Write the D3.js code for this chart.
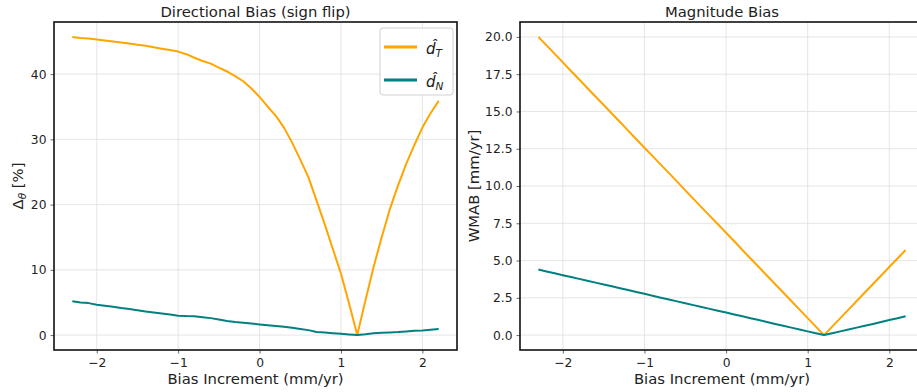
<!DOCTYPE html>
<html>
<head>
<meta charset="utf-8">
<script src="https://cdn.jsdelivr.net/npm/d3@7"></script>
<style>
  html, body { margin: 0; padding: 0; background: #fff; overflow: hidden; }
  svg { display: block; font-family: "DejaVu Sans", sans-serif; }
</style>
</head>
<body>
<svg id="chart" width="917" height="392"></svg>
<script>
// ---------------- DATA ----------------
const biasIncrement = [-2.3,-2.2,-2.1,-2.0,-1.9,-1.8,-1.7,-1.6,-1.5,-1.4,-1.3,-1.2,-1.1,-1.0,-0.9,-0.8,-0.7,-0.6,-0.5,-0.4,-0.3,-0.2,-0.1,0.0,0.1,0.2,0.3,0.4,0.5,0.6,0.7,0.8,0.9,1.0,1.1,1.2,1.3,1.4,1.5,1.6,1.7,1.8,1.9,2.0,2.1,2.2];

const dirBiasT = [45.7,45.55,45.45,45.3,45.15,45.0,44.85,44.7,44.5,44.35,44.1,43.9,43.7,43.45,43.05,42.5,42.0,41.6,41.0,40.4,39.7,38.9,37.8,36.5,35.0,33.6,31.8,29.5,26.9,24.2,20.6,17.0,13.2,9.4,4.8,0.0,5.3,10.4,15.0,19.3,22.9,26.2,29.1,31.8,34.0,35.9];
const dirBiasN = [5.17,5.0,4.9,4.66,4.5,4.35,4.15,4.0,3.8,3.6,3.45,3.3,3.15,2.97,2.92,2.9,2.75,2.6,2.4,2.15,2.0,1.88,1.76,1.64,1.5,1.38,1.27,1.12,0.95,0.76,0.47,0.38,0.28,0.2,0.1,0.0,0.12,0.28,0.35,0.4,0.46,0.55,0.65,0.72,0.82,0.92];

const magBiasT = [20.00,19.43,18.86,18.29,17.71,17.14,16.57,16.00,15.43,14.86,14.29,13.71,13.14,12.57,12.00,11.43,10.86,10.29,9.71,9.14,8.57,8.00,7.43,6.86,6.29,5.71,5.14,4.57,4.00,3.43,2.86,2.29,1.71,1.14,0.57,0.00,0.57,1.14,1.71,2.29,2.86,3.43,4.00,4.57,5.14,5.71];
const magBiasN = [4.40,4.27,4.15,4.02,3.90,3.77,3.65,3.52,3.39,3.27,3.14,3.02,2.89,2.77,2.64,2.51,2.39,2.26,2.14,2.01,1.89,1.76,1.63,1.51,1.38,1.26,1.13,1.01,0.88,0.75,0.63,0.50,0.38,0.25,0.13,0.00,0.13,0.25,0.38,0.50,0.63,0.75,0.88,1.01,1.13,1.26];

const xTicks = [-2, -1, 0, 1, 2];
const leftYTicks = [0, 10, 20, 30, 40];
const rightYTicks = [0, 2.5, 5, 7.5, 10, 12.5, 15, 17.5, 20];
const seriesNames = ["T", "N"];
const seriesColors = ["#ffa500", "#008080"];

// ---------------- DRAW ----------------
const svg = d3.select("#chart");
const minus = s => s.replace("-", "\u2212");
const TICK_FS = "12.3px", LABEL_FS = "14.8px";

function panel(opts) {
  const { x0, x1, y0, y1, xDomain, yDomain, yTicks, yFmt, series, title, ylabel, ylabelX, ylabelY } = opts;
  const x = d3.scaleLinear().domain(xDomain).range([x0, x1]);
  const y = d3.scaleLinear().domain(yDomain).range([y1, y0]);
  const g = svg.append("g");

  // grid
  g.append("g").selectAll("line").data(xTicks).join("line")
    .attr("x1", d => x(d)).attr("x2", d => x(d)).attr("y1", y0).attr("y2", y1)
    .attr("stroke", "#dedede").attr("stroke-width", 0.8);
  g.append("g").selectAll("line").data(yTicks).join("line")
    .attr("y1", d => y(d)).attr("y2", d => y(d)).attr("x1", x0).attr("x2", x1)
    .attr("stroke", "#dedede").attr("stroke-width", 0.8);

  // lines
  const line = vals => d3.line().x((d, i) => x(biasIncrement[i])).y(d => y(d))(vals);
  series.forEach((vals, k) => {
    g.append("path").attr("d", line(vals)).attr("fill", "none")
      .attr("stroke", seriesColors[k]).attr("stroke-width", 2)
      .attr("stroke-linejoin", "round").attr("stroke-linecap", "butt");
  });

  // axes
  const xAxis = d3.axisBottom(x).tickValues(xTicks).tickSize(3.5).tickPadding(4.5)
    .tickFormat(d => minus(String(d)));
  const gx = g.append("g").attr("transform", `translate(0,${y1})`).call(xAxis);
  const yAxis = d3.axisLeft(y).tickValues(yTicks).tickSize(3.5).tickPadding(4).tickFormat(yFmt);
  const gy = g.append("g").attr("transform", `translate(${x0},0)`).call(yAxis);
  [gx, gy].forEach(a => {
    a.select(".domain").remove();
    a.selectAll(".tick line").attr("stroke", "#444").attr("stroke-width", 0.8);
    a.selectAll(".tick text").attr("fill", "#222").style("font-size", TICK_FS)
      .style("font-family", "'DejaVu Sans', sans-serif");
  });

  // frame
  g.append("rect").attr("x", x0).attr("y", y0).attr("width", x1 - x0).attr("height", y1 - y0)
    .attr("fill", "none").attr("stroke", "#111").attr("stroke-width", 1.6);

  // title
  g.append("text").attr("x", (x0 + x1) / 2).attr("y", 17)
    .attr("text-anchor", "middle").style("font-size", LABEL_FS).attr("fill", "#222").text(title);

  // x label
  g.append("text").attr("x", (x0 + x1) / 2).attr("y", 384)
    .attr("text-anchor", "middle").style("font-size", LABEL_FS).attr("fill", "#222")
    .text("Bias Increment (mm/yr)");

  // y label
  const yl = g.append("text").attr("transform", `translate(${ylabelX},${ylabelY}) rotate(-90)`)
    .attr("text-anchor", "middle").style("font-size", LABEL_FS).attr("fill", "#222");
  ylabel(yl);
  return { x, y, g };
}

// Left panel
panel({
  x0: 54, x1: 457, y0: 22, y1: 350,
  xDomain: [-2.525, 2.425], yDomain: [-2.285, 47.985],
  yTicks: leftYTicks, yFmt: d => String(d),
  series: [dirBiasT, dirBiasN],
  title: "Directional Bias (sign flip)",
  ylabel: t => {
    t.append("tspan").text("\u0394");
    t.append("tspan").attr("dy", 3).style("font-size", "10.5px").style("font-style", "italic").text("\u03b8");
    t.append("tspan").attr("dy", -3).text(" [%]");
  },
  ylabelX: 23, ylabelY: 186
});

// Right panel (its right edge lies beyond the window, as in the reference)
panel({
  x0: 520, x1: 924, y0: 22, y1: 350,
  xDomain: [-2.525, 2.425], yDomain: [-1, 21],
  yTicks: rightYTicks, yFmt: d3.format(".1f"),
  series: [magBiasT, magBiasN],
  title: "Magnitude Bias",
  ylabel: t => t.text("WMAB [mm/yr]"),
  ylabelX: 479, ylabelY: 186
});

// Legend (left panel, upper right)
const lg = svg.append("g").attr("transform", "translate(380,28)");
lg.append("rect").attr("width", 73).attr("height", 67).attr("rx", 3)
  .attr("fill", "rgba(255,255,255,0.85)").attr("stroke", "#d0d0d0").attr("stroke-width", 1);
const items = lg.selectAll("g.item").data(seriesNames).join("g")
  .attr("transform", (d, i) => `translate(0,${19 + i * 33})`);
items.append("line").attr("x1", 4).attr("x2", 37).attr("y1", 0).attr("y2", 0)
  .attr("stroke", (d, i) => seriesColors[i]).attr("stroke-width", 3);
const lt = items.append("text").attr("x", 46).attr("y", 7).attr("fill", "#222")
  .style("font-size", "15px").style("font-style", "italic");
lt.append("tspan").text("d\u0302");
lt.append("tspan").attr("dy", 2.5).style("font-size", "10.5px").text(d => d);
</script>
</body>
</html>
